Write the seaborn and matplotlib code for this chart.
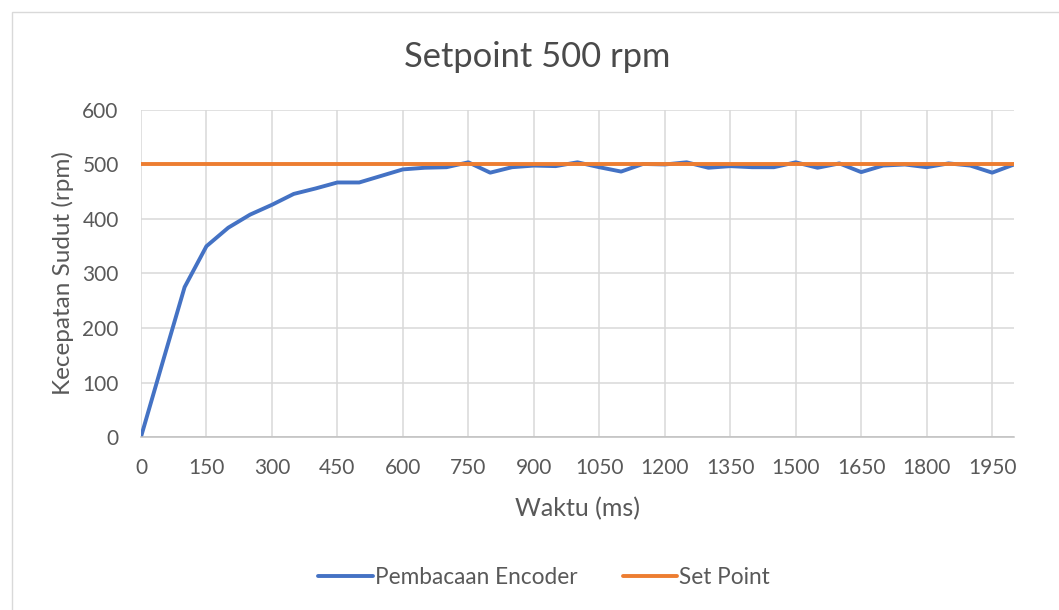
import matplotlib
matplotlib.use("Agg")
import matplotlib.pyplot as plt
from matplotlib.patches import Rectangle
import pandas as pd
import seaborn as sns

# time axis (ms) and encoder readings (rpm)
time_ms = [0, 50, 100, 150, 200, 250, 300, 350, 400, 450,
           500, 550, 600, 650, 700, 750, 800, 850, 900, 950,
           1000, 1050, 1100, 1150, 1200, 1250, 1300, 1350, 1400, 1450,
           1500, 1550, 1600, 1650, 1700, 1750, 1800, 1850, 1900, 1950,
           2000]
encoder_rpm = [0, 138, 275, 350, 384, 408, 426, 446, 456, 467,
               467, 479, 491, 494, 495, 504, 485, 495, 498, 497,
               504, 495, 487, 501, 500, 504, 494, 497, 495, 495,
               504, 494, 502, 486, 498, 500, 495, 502, 498, 485,
               500]
setpoint_rpm = [500] * len(time_ms)

x_ticks = list(range(0, 2000, 150))
y_ticks = [0, 100, 200, 300, 400, 500, 600]

blue = "#4472C4"
orange = "#ED7D31"
text_gray = "#595959"

df = pd.DataFrame({
    "Waktu (ms)": time_ms * 2,
    "rpm": encoder_rpm + setpoint_rpm,
    "seri": ["Pembacaan Encoder"] * len(time_ms) + ["Set Point"] * len(time_ms),
})

sns.set_style("white")
plt.rcParams["font.family"] = ["Lato", "DejaVu Sans"]

fig = plt.figure(figsize=(10.59, 6.10), dpi=100)
ax = fig.add_axes([0.1331, 0.2836, 0.8244, 0.5361])

sns.lineplot(data=df, x="Waktu (ms)", y="rpm", hue="seri",
             palette={"Pembacaan Encoder": blue, "Set Point": orange},
             linewidth=2.8, ax=ax, legend=True)

ax.set_xlim(0, 2000)
ax.set_ylim(0, 600)
ax.set_xticks(x_ticks)
ax.set_yticks(y_ticks)
ax.grid(True, color="#d9d9d9", linewidth=1.1)
ax.set_axisbelow(True)
for side in ["top", "right", "left"]:
    ax.spines[side].set_visible(False)
ax.spines["bottom"].set_color("#bfbfbf")
ax.spines["bottom"].set_linewidth(1.1)
ax.tick_params(axis="x", length=0, labelsize=15, labelcolor=text_gray, pad=15)
ax.tick_params(axis="y", length=0, labelsize=15, labelcolor=text_gray, pad=16)

ax.set_xlabel("Waktu (ms)", fontsize=18, color=text_gray, labelpad=14)
ax.set_ylabel("Kecepatan Sudut (rpm)", fontsize=17.5, color=text_gray, labelpad=6)
fig.suptitle("Setpoint 500 rpm", x=0.507, y=0.907, va="center",
             fontsize=24.8, color="#4a4a4a")

handles, labels = ax.get_legend_handles_labels()
fig.legend(handles, labels, loc="center", bbox_to_anchor=(0.514, 0.054),
           ncol=2, frameon=False, fontsize=16.3, labelcolor=text_gray,
           handlelength=2.4, handletextpad=0.1, columnspacing=2.0)
ax.get_legend().remove()

# chart area border
fig.patches.append(Rectangle((0.011, -0.01), 0.995, 0.99, transform=fig.transFigure,
                             fill=False, edgecolor="#d9d9d9", linewidth=1))

fig.savefig("out.png", dpi=100)
